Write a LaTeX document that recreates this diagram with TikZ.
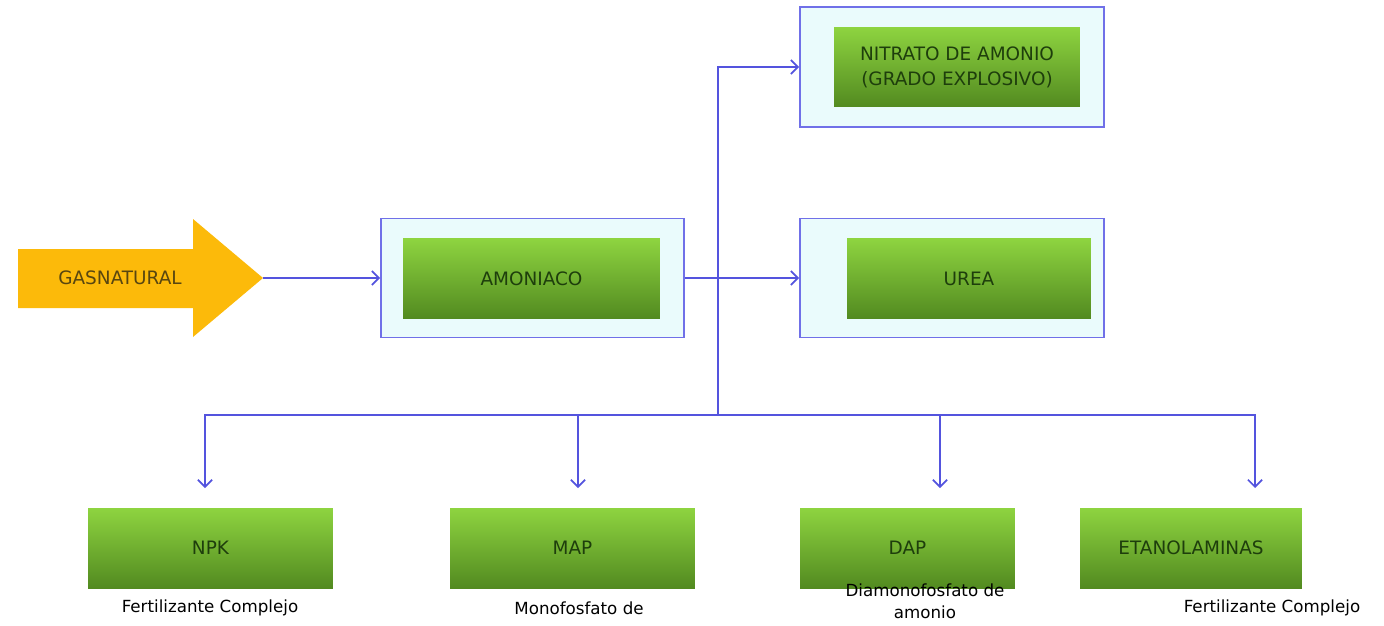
\documentclass[tikz,border=0pt]{standalone}
\usepackage{fontspec}
\setmainfont{DejaVu Sans}
\usepackage{xcolor}
\usetikzlibrary{positioning, calc, arrows.meta}

\definecolor{lnblue}{RGB}{84,84,222}
\definecolor{boxblue}{RGB}{112,112,232}
\definecolor{boxfill}{RGB}{234,251,252}
\definecolor{grtop}{RGB}{142,212,64}
\definecolor{grbot}{RGB}{82,138,32}
\definecolor{grtxt}{RGB}{30,62,12}
\definecolor{gasfill}{RGB}{252,186,10}
\definecolor{gastxt}{RGB}{88,70,16}

\begin{document}
\begin{tikzpicture}[x=0.02cm, y=-0.02cm, >={Straight Barb[length=4pt,width=8pt]}]
        \tikzstyle{outer} = [rectangle, draw=boxblue, fill=boxfill, line width=1pt, minimum width=6.08cm, minimum height=2.38cm]
        \tikzstyle{prod} = [rectangle, top color=grtop, bottom color=grbot, minimum height=1.6cm, text=grtxt, font=\fontsize{10.5}{14.2}\selectfont, align=center]
        \tikzstyle{conn} = [->, draw=lnblue, line width=1pt]
        \tikzstyle{note} = [font=\fontsize{9.5}{12.5}\selectfont, align=center, inner sep=0pt]

        \useasboundingbox (0,0) rectangle (1384,626);

        % Gas natural arrow
        \fill[gasfill] (18,249) -- (193,249) -- (193,219) -- (263,278) -- (193,337) -- (193,308) -- (18,308) -- cycle;
        \node (gas) [text=gastxt, font=\fontsize{10.5}{12}\selectfont] at (120,278) {GASNATURAL};
        \coordinate (gastip) at (263,278);

        % Middle row
        \node (amonout) [outer, minimum width=6.06cm] at (532.5,278) {};
        \node (amon) [prod, minimum width=5.14cm] at (531.5,278.5) {AMONIACO};
        \node (nitout) [outer, minimum height=2.4cm] at (952,67) {};
        \node (nit) [prod, minimum width=4.92cm] at (957,67) {NITRATO DE AMONIO\\(GRADO EXPLOSIVO)};
        \node (ureaout) [outer] at (952,278) {};
        \node (urea) [prod, minimum width=4.88cm] at (969,278.5) {UREA};

        % Bottom row
        \node (npk) [prod, minimum width=4.9cm] at (210.5,548) {NPK};
        \node (map) [prod, minimum width=4.9cm] at (572.5,548) {MAP};
        \node (dap) [prod, minimum width=4.3cm] at (907.5,548) {DAP};
        \node (eta) [prod, minimum width=4.44cm] at (1191,548) {ETANOLAMINAS};

        \node (npknote) [note] at (210,608) {Fertilizante Complejo};
        \node (mapnote) [note] at (579,608) {Monofosfato de};
        \node (dapnote) [note] at (925,601) {Diamonofosfato de\\amonio};
        \node (etanote) [note] at (1272,608) {Fertilizante Complejo};

        % Junctions
        \coordinate (jn) at (718,278);
        \coordinate (hub) at (718,415);
        \coordinate (dnpk) at (205,488);
        \coordinate (dmap) at (578,488);
        \coordinate (ddap) at (940,488);
        \coordinate (deta) at (1255,488);

        % Connections
        \draw [conn] (gastip) -- (amonout.west);
        \draw [conn] (amonout.east) -- (ureaout.west);
        \draw [conn] (hub) |- (nitout.west);
        \draw [conn] (hub) -| (dnpk); \draw [conn] (hub) -| (dmap); \draw [conn] (hub) -| (ddap); \draw [conn] (hub) -| (deta);
    \end{tikzpicture}
\end{document}
